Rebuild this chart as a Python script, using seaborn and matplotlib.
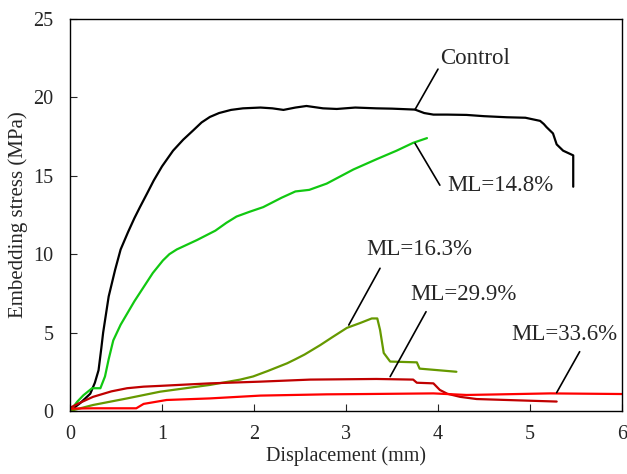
import matplotlib
matplotlib.use("Agg")
import matplotlib.pyplot as plt
import numpy as np
import pandas as pd
import seaborn as sns

sns.set_style("ticks")
plt.rcParams["font.family"] = ["Liberation Serif", "DejaVu Serif"]

control_x = [0, 0.11, 0.22, 0.27, 0.31, 0.34, 0.36, 0.42, 0.49, 0.55, 0.63, 0.7, 0.76, 0.84,
             0.91, 1.0, 1.12, 1.23, 1.34, 1.43, 1.52, 1.62, 1.75, 1.88, 2.07, 2.2, 2.32, 2.45,
             2.57, 2.75, 2.9, 3.1, 3.33, 3.5, 3.75, 3.85, 3.95, 4.1, 4.31, 4.5, 4.75, 4.95,
             5.11, 5.15, 5.18, 5.25, 5.29, 5.36, 5.47, 5.47]
control_y = [0, 0.5, 1.1, 1.8, 2.6, 4.0, 5.0, 7.3, 9.0, 10.3, 11.4, 12.3, 13.0, 13.9,
             14.7, 15.6, 16.6, 17.3, 17.9, 18.4, 18.75, 19.0, 19.2, 19.3, 19.35, 19.3, 19.2, 19.35,
             19.45, 19.3, 19.26, 19.35, 19.3, 19.28, 19.22, 19.0, 18.9, 18.9, 18.88, 18.8, 18.73, 18.7,
             18.5, 18.3, 18.1, 17.7, 17.0, 16.6, 16.3, 14.3]

ml148_x = [0, 0.08, 0.145, 0.24, 0.33, 0.38, 0.42, 0.47, 0.55, 0.62, 0.7, 0.8, 0.9, 1.01,
           1.08, 1.16, 1.27, 1.38, 1.48, 1.58, 1.7, 1.81, 1.95, 2.1, 2.2, 2.3, 2.45, 2.6,
           2.79, 3.08, 3.33, 3.55, 3.73, 3.88]
ml148_y = [0, 0.6, 1.0, 1.45, 1.45, 2.2, 3.3, 4.5, 5.5, 6.2, 7.0, 7.9, 8.8, 9.6,
           10.0, 10.3, 10.6, 10.9, 11.2, 11.5, 12.0, 12.4, 12.7, 13.0, 13.3, 13.6, 14.0, 14.1,
           14.5, 15.4, 16.05, 16.6, 17.1, 17.4]

ml163_x = [0, 0.25, 0.62, 0.98, 1.52, 1.85, 1.99, 2.15, 2.36, 2.45, 2.55, 2.72, 2.85, 3.01,
           3.15, 3.28, 3.34, 3.37, 3.41, 3.48, 3.77, 3.8, 4.0, 4.2]
ml163_y = [0, 0.38, 0.8, 1.23, 1.66, 2.0, 2.2, 2.55, 3.04, 3.3, 3.6, 4.2, 4.7, 5.3,
           5.6, 5.9, 5.9, 5.17, 3.7, 3.15, 3.1, 2.7, 2.6, 2.5]

ml299_x = [0, 0.1, 0.25, 0.45, 0.62, 0.8, 0.98, 1.52, 2.07, 2.61, 3.33, 3.73, 3.77, 3.95,
           4.02, 4.1, 4.24, 4.42, 4.96, 5.29]
ml299_y = [0.2, 0.5, 0.9, 1.25, 1.45, 1.55, 1.6, 1.76, 1.87, 2.0, 2.04, 2.0, 1.8, 1.76,
           1.34, 1.1, 0.9, 0.76, 0.66, 0.6]

ml336_x = [0, 0.25, 0.72, 0.8, 1.05, 1.52, 2.07, 2.79, 3.22, 3.95, 4.31, 4.6, 5.22, 6.0]
ml336_y = [0.15, 0.17, 0.17, 0.45, 0.7, 0.8, 0.98, 1.06, 1.08, 1.12, 1.02, 1.05, 1.12, 1.08]

series = [
    ("Control", control_x, control_y, "#000000"),
    ("ML=14.8%", ml148_x, ml148_y, "#11c811"),
    ("ML=16.3%", ml163_x, ml163_y, "#669900"),
    ("ML=29.9%", ml299_x, ml299_y, "#c00000"),
    ("ML=33.6%", ml336_x, ml336_y, "#ff0000"),
]

# label text position, leader line end near text, leader line point on curve
labels = {
    "Control": ((4.02, 22.5), (4.0, 21.8), (3.75, 19.22)),
    "ML=14.8%": ((4.10, 14.35), (4.02, 14.4), (3.75, 17.07)),
    "ML=16.3%": ((3.22, 10.27), (3.37, 9.1), (3.03, 5.48)),
    "ML=29.9%": ((3.70, 7.4), (3.87, 6.33), (3.48, 2.19)),
    "ML=33.6%": ((4.80, 4.85), (5.54, 3.78), (5.29, 1.17)),
}

fig, ax = plt.subplots(figsize=(6.27, 4.74), dpi=100)
fig.subplots_adjust(left=0.1117, right=0.992, top=0.96, bottom=0.133)

for name, xs, ys, color in series:
    df = pd.DataFrame({"x": xs, "y": ys})
    sns.lineplot(data=df, x="x", y="y", sort=False, estimator=None,
                 color=color, lw=1.6, ax=ax)

for name, (txt, end, pt) in labels.items():
    ax.annotate("", xy=pt, xytext=end,
                arrowprops=dict(arrowstyle="-", color="black", lw=1.2,
                                shrinkA=0, shrinkB=0))
    ax.text(txt[0], txt[1], name, fontsize=16.5, ha="left", va="center")

ax.set_xlim(0, 6)
ax.set_ylim(0, 25)
ax.set_xticks(np.arange(0, 7, 1))
ax.set_yticks(np.arange(0, 30, 5))
ax.tick_params(direction="in", labelsize=14.5, length=5, width=0.8)
ax.tick_params(axis="x", pad=10)
ax.tick_params(axis="y", pad=12)
ax.set_xlabel("Displacement (mm)", fontsize=14.5, labelpad=2)
ax.set_ylabel("Embedding stress (MPa)", fontsize=15, labelpad=4)
for sp in ax.spines.values():
    sp.set_linewidth(1.0)
    sp.set_color("black")

fig.savefig("out.png", dpi=100)
